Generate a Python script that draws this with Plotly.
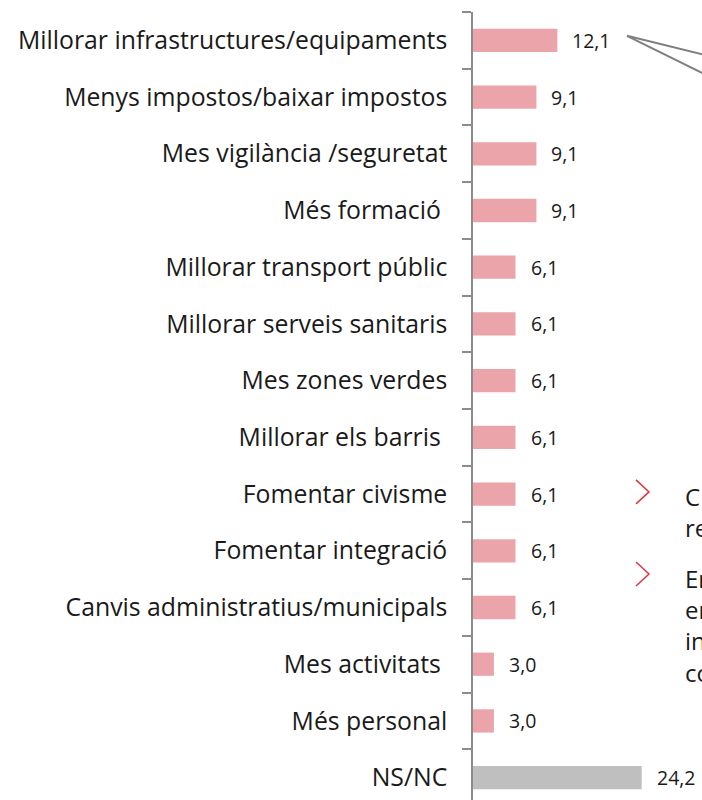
import plotly.graph_objects as go

categories = [
    "Millorar infrastructures/equipaments",
    "Menys impostos/baixar impostos",
    "Mes vigilància /seguretat",
    "Més formació\u00a0",
    "Millorar transport públic",
    "Millorar serveis sanitaris",
    "Mes zones verdes",
    "Millorar els barris\u00a0",
    "Fomentar civisme",
    "Fomentar integració",
    "Canvis administratius/municipals",
    "Mes activitats\u00a0",
    "Més personal",
    "NS/NC",
]
values = [12.1, 9.1, 9.1, 9.1, 6.1, 6.1, 6.1, 6.1, 6.1, 6.1, 6.1, 3.0, 3.0, 24.2]
value_labels = ["12,1", "9,1", "9,1", "9,1", "6,1", "6,1", "6,1", "6,1", "6,1", "6,1", "6,1", "3,0", "3,0", "24,2"]
bar_colors = ["#EAA4AA"] * 13 + ["#BFBFBF"]

side_text_1 = "C<br>re"
side_text_2 = "Er<br>er<br>in<br>co"

W, H = 702, 800
L, T = 473, 12.2
plot_h = H - T

def px(x):
    return (x - L) / (W - L)

def py(y):
    return (H - y) / plot_h

fig = go.Figure()
fig.add_trace(go.Bar(
    x=values, y=categories, orientation="h",
    marker=dict(color=bar_colors, line=dict(width=0)),
    width=0.41, hoverinfo="skip",
))

for c, v, t in zip(categories, values, value_labels):
    fig.add_annotation(x=v, y=c, text=t, showarrow=False, xanchor="left",
                       xshift=13, font=dict(family="Open Sans", size=19.5, color="#1a1a1a"))

# callout lines
for y_end in (55, 74):
    fig.add_shape(type="line", xref="paper", yref="paper",
                  x0=px(627), y0=py(36), x1=px(704), y1=py(y_end),
                  line=dict(color="#7f7f7f", width=2))

# chevrons
for yc in (492, 574):
    fig.add_shape(type="path", xref="paper", yref="paper",
                  path=f"M {px(636)} {py(yc-12)} L {px(649)} {py(yc)} L {px(636)} {py(yc+12)}",
                  line=dict(color="#E0353F", width=1.5))

fig.add_annotation(xref="paper", yref="paper", x=px(683), y=py(478), text=side_text_1,
                   showarrow=False, xanchor="left", yanchor="top", align="left",
                   font=dict(family="Open Sans", size=24, color="#1a1a1a"))
fig.add_annotation(xref="paper", yref="paper", x=px(683), y=py(560), text=side_text_2,
                   showarrow=False, xanchor="left", yanchor="top", align="left",
                   font=dict(family="Open Sans", size=24, color="#1a1a1a"))

bottom = -0.5 + plot_h / 56.7
fig.update_layout(
    width=W, height=H,
    margin=dict(l=L, r=0, t=T, b=0, autoexpand=False),
    paper_bgcolor="white", plot_bgcolor="white",
    showlegend=False,
    xaxis=dict(range=[0, (W - L) / 6.97], visible=False, fixedrange=True),
    yaxis=dict(
        type="category", range=[bottom, -0.5], automargin=False,
        showline=True, linecolor="#8c8c8c", linewidth=1.5,
        ticks="outside", ticklen=9, tickcolor="#8c8c8c", tickwidth=1.5,
        tickson="boundaries", ticklabelstandoff=19,
        showgrid=False, zeroline=False, fixedrange=True,
        tickfont=dict(family="Open Sans", size=24.8, color="#1a1a1a"),
    ),
)

fig.write_html(
    "out.html",
    config={"displayModeBar": False},
    post_script="document.body.style.margin='0';document.body.style.overflow='hidden';",
)
